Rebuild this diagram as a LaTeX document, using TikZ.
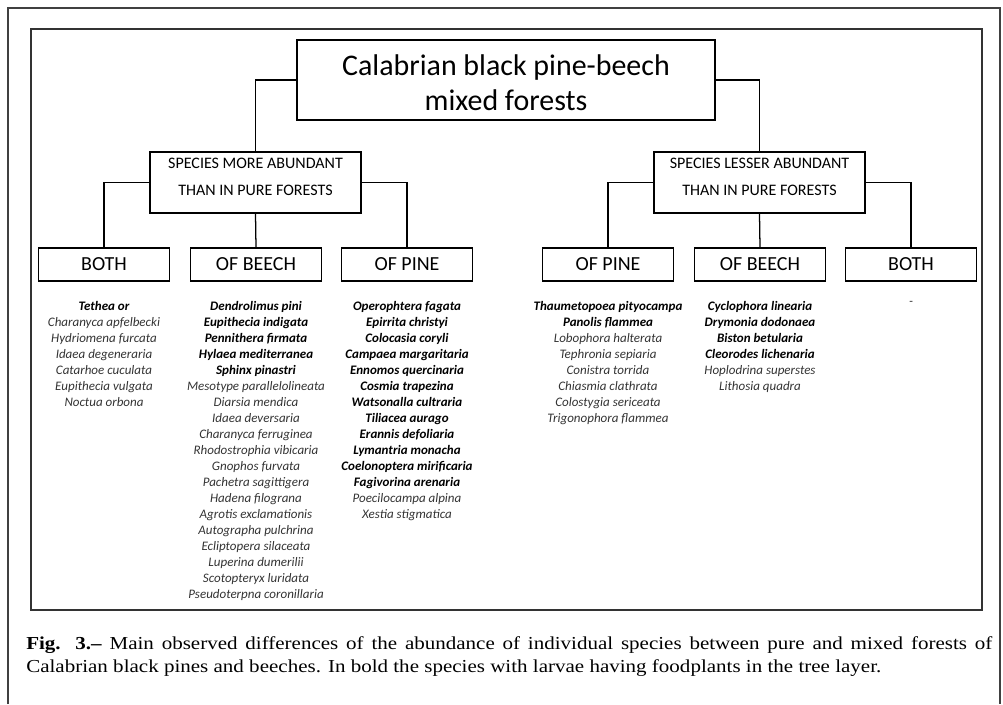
\documentclass[tikz,border=0pt]{standalone}
\usepackage{fontspec}
\setmainfont{Carlito}
\newfontfamily\capfont[FakeStretch=1.15]{Liberation Serif}
\newcommand{\spb}[1]{{\color{black}\bfseries #1}}

\begin{document}
\begin{tikzpicture}[transform shape,
	box/.style={shape=rectangle, draw, line width=0.9pt, inner sep=0pt, align=center},
	boxtext/.style={anchor=center, align=center, inner sep=0pt},
	titlebox/.style={box, minimum width=10.45cm, minimum height=2cm},
	groupbox/.style={box, minimum width=5.275cm, minimum height=1.525cm},
	leafbox/.style={box, minimum width=3.275cm, minimum height=0.825cm, font=\fontsize{14.2}{17}\selectfont},
	wire/.style={line width=0.9pt},
	splist/.style={anchor=north, align=center, inner sep=0pt, text=black!80, font=\fontsize{9.25}{11.38}\selectfont\itshape}]
	\useasboundingbox (0, 0) rectangle (25.075, 17.6);
	% Frames:
	\draw[line width=1.4pt, black!75] (0.2, 0) -- (0.2, 17.4) -- (25.0, 17.4) -- (25.0, 0);
	\draw[line width=1.1pt, black!80] (0.775, 2.35) rectangle (24.55, 16.875);
	% Boxes and their texts:
	\node[titlebox] (title) at (12.65, 15.6){} node[boxtext, font=\fontsize{21.3}{24.9}\selectfont] (titletext) at (12.65, 15.525){Calabrian black pine-beech\\mixed forests};
	\node[groupbox] (more) at (6.3875, 13.0375){} node[boxtext, font=\fontsize{11.4}{19.2}\selectfont] (moretext) at (6.3875, 13.175){SPECIES MORE ABUNDANT\\THAN IN PURE FORESTS};
	\node[groupbox] (less) at (18.9875, 13.0375){} node[boxtext, font=\fontsize{11.4}{19.2}\selectfont] (lesstext) at (18.9875, 13.175){SPECIES LESSER ABUNDANT\\THAN IN PURE FORESTS};
	\node[leafbox] (both1) at (2.6, 10.9875){BOTH};
	\node[leafbox] (beech1) at (6.4, 10.9875){OF BEECH};
	\node[leafbox] (pine1) at (10.175, 10.9875){OF PINE};
	\node[leafbox] (pine2) at (15.2, 10.9875){OF PINE};
	\node[leafbox] (beech2) at (19.0, 10.9875){OF BEECH};
	\node[leafbox] (both2) at (22.775, 10.9875){BOTH};
	% Wires:
	\draw[wire] (title.west) -| (more.north);
	\draw[wire] (title.east) -| (less.north);
	\draw[wire] (more.west) -| (both1.north);
	\draw[wire] (more.south) -- (beech1.north);
	\draw[wire] (more.east) -| (pine1.north);
	\draw[wire] (less.west) -| (pine2.north);
	\draw[wire] (less.south) -- (beech2.north);
	\draw[wire] (less.east) -| (both2.north);
	% Species lists:
	\node[splist] (list1) at (2.6, 10.075){\spb{Tethea or}\\Charanyca apfelbecki\\Hydriomena furcata\\Idaea degeneraria\\Catarhoe cuculata\\Eupithecia vulgata\\Noctua orbona};
	\node[splist] (list2) at (6.4, 10.075){\spb{Dendrolimus pini}\\\spb{Eupithecia indigata}\\\spb{Pennithera firmata}\\\spb{Hylaea mediterranea}\\\spb{Sphinx pinastri}\\Mesotype parallelolineata\\Diarsia mendica\\Idaea deversaria\\Charanyca ferruginea\\Rhodostrophia vibicaria\\Gnophos furvata\\Pachetra sagittigera\\Hadena filograna\\Agrotis exclamationis\\Autographa pulchrina\\Ecliptopera silaceata\\Luperina dumerilii\\Scotopteryx luridata\\Pseudoterpna coronillaria};
	\node[splist] (list3) at (10.175, 10.075){\spb{Operophtera fagata}\\\spb{Epirrita christyi}\\\spb{Colocasia coryli}\\\spb{Campaea margaritaria}\\\spb{Ennomos quercinaria}\\\spb{Cosmia trapezina}\\\spb{Watsonalla cultraria}\\\spb{Tiliacea aurago}\\\spb{Erannis defoliaria}\\\spb{Lymantria monacha}\\\spb{Coelonoptera mirificaria}\\\spb{Fagivorina arenaria}\\Poecilocampa alpina\\Xestia stigmatica};
	\node[splist] (list4) at (15.2, 10.075){\spb{Thaumetopoea pityocampa}\\\spb{Panolis flammea}\\Lobophora halterata\\Tephronia sepiaria\\Conistra torrida\\Chiasmia clathrata\\Colostygia sericeata\\Trigonophora flammea};
	\node[splist] (list5) at (19.0, 10.075){\spb{Cyclophora linearia}\\\spb{Drymonia dodonaea}\\\spb{Biston betularia}\\\spb{Cleorodes lichenaria}\\Hoplodrina superstes\\Lithosia quadra};
	\node[splist] (list6) at (22.775, 10.075){-};
	% Caption:
	\node[anchor=north west, inner sep=0pt, align=left, font=\capfont\fontsize{13}{16}\selectfont] (caption) at (0.65, 1.69){\makebox[24.15cm][s]{\textbf{Fig. 3.–} Main observed differences of the abundance of individual species between pure and mixed forests of}\\Calabrian black pines and beeches. In bold the species with larvae having foodplants in the tree layer.};
\end{tikzpicture}
\end{document}
